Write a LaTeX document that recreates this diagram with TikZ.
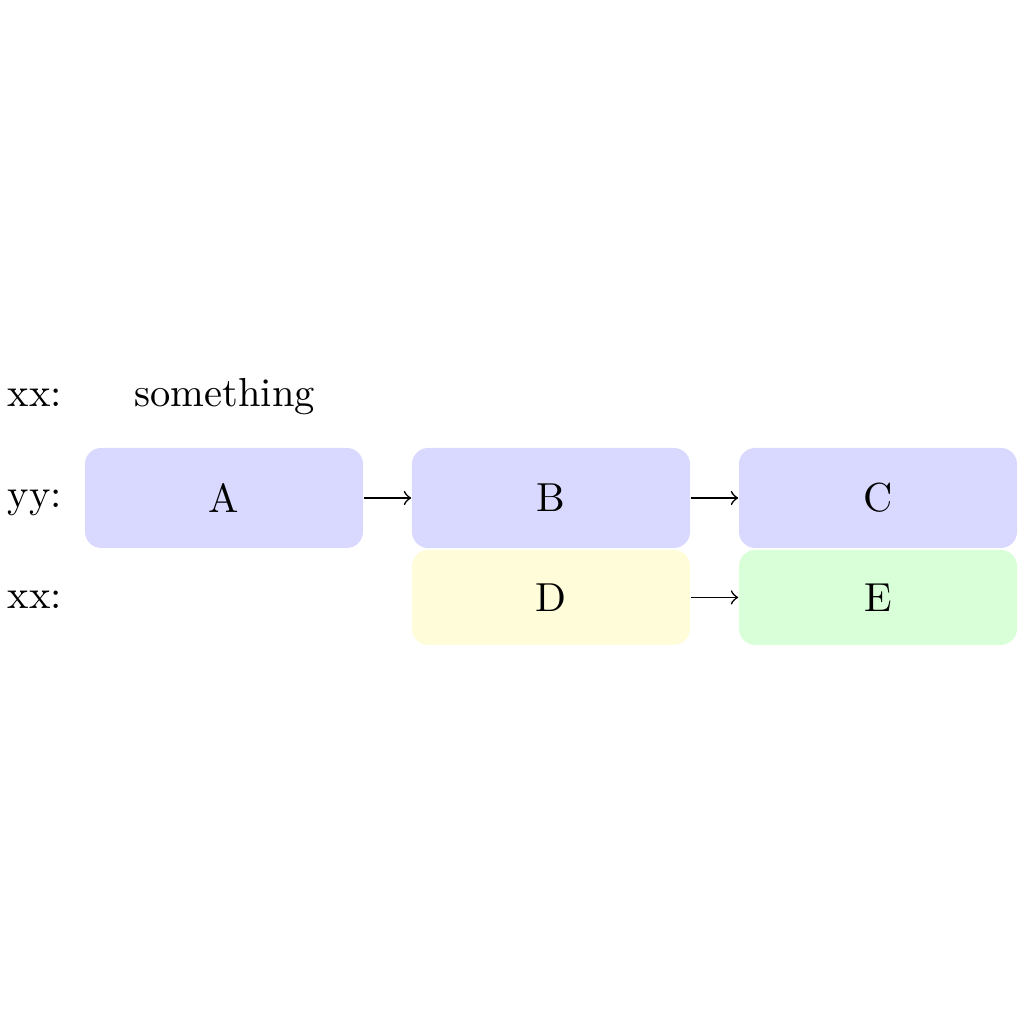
\documentclass[tikz,border=0pt]{standalone}
\usepackage{tikz}

\begin{document}
\begin{tikzpicture}[
    box/.style={fill=#1,rounded corners=4pt,minimum width=2.413cm,inner sep=0pt},
    rowlabel/.style={anchor=base west,inner sep=0pt}]
        % Background
        \useasboundingbox (0,0) rectangle (8.887,8.887);

        % Labels
        \node[rowlabel] (l1) at (0.060,5.355) {xx:};
        \node[rowlabel] (l2) at (0.060,4.480) {yy:};
        \node[rowlabel] (l3) at (0.060,3.602) {xx:};
        \node[anchor=base,inner sep=0pt] (s) at (1.950,5.355) {something};

        % Boxes
        \node[box=blue!15,minimum height=0.868cm] (A) at (1.944,4.565) {A};
        \node[box=blue!15,minimum height=0.868cm] (B) at (4.782,4.565) {B};
        \node[box=blue!15,minimum height=0.868cm] (C) at (7.620,4.565) {C};
        \node[box=yellow!15,minimum height=0.824cm] (D) at (4.782,3.702) {D};
        \node[box=green!15,minimum height=0.824cm] (E) at (7.620,3.702) {E};

        % Arrows
        \draw[->] (A) -- (B);
        \draw[->] (B) -- (C);
        \draw[->] (D) -- (E);

    \end{tikzpicture}
\end{document}
